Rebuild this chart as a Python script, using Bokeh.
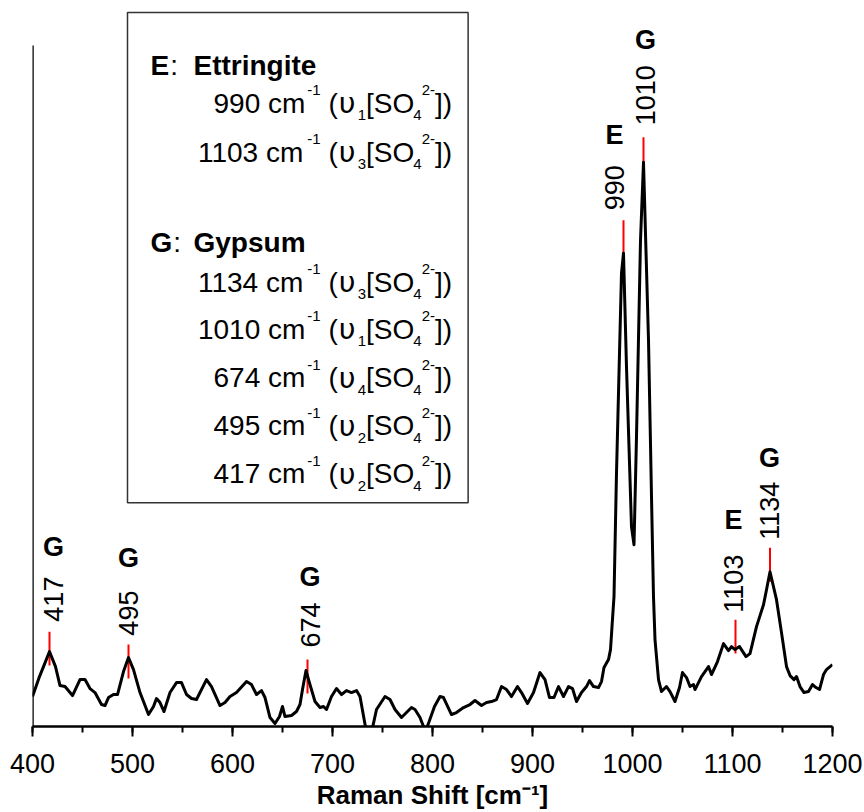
import numpy as np
from bokeh.plotting import figure
from bokeh.models import Range1d, SingleIntervalTicker, ColumnDataSource
from bokeh.core.properties import value
from bokeh.embed import file_html
from bokeh.resources import INLINE

# ---------------- data ----------------
shift = [400, 407, 417, 423, 427.5, 432.5, 440, 447.5, 452.5, 457.5, 462.5, 469, 472.5, 476,
         481, 485, 491, 496, 501, 507.5, 516, 521, 524, 527.5, 531.5, 537.5, 544, 549, 554,
         559, 564, 574, 579, 587.5, 592.5, 597.5, 604, 614, 619, 624, 629, 632.5, 637.5,
         642.5, 647, 650, 652.5, 659, 664, 667.5, 670, 673.5, 677.5, 682.5, 687.5, 691, 694,
         699, 704, 709, 714, 719, 724, 727.5, 734, 739, 744, 752.5, 757.5, 762.5, 769, 774,
         779, 782.5, 787.5, 793, 797, 802, 807.5, 811, 819, 824, 831, 837.5, 842.5, 849, 854,
         859, 864, 869, 874, 879, 885, 889, 895, 901, 907.5, 912.5, 917, 921.5, 926, 931, 936,
         940, 944, 949, 954, 957, 961, 966, 969, 971.5, 976, 978, 979.5, 981.5, 984, 989, 991,
         994, 999, 1001.5, 1004, 1008, 1011, 1016, 1019, 1021, 1022.5, 1026, 1029, 1034,
         1037.5, 1042.5, 1047, 1050, 1054, 1057.5, 1061, 1062.5, 1069, 1076, 1079, 1085, 1091,
         1096, 1099, 1102.5, 1107, 1113.5, 1117.5, 1124, 1131, 1134, 1137.5, 1144, 1149, 1154,
         1157.5, 1161.5, 1164, 1167.5, 1171.5, 1176, 1180, 1183.5, 1187, 1191, 1194, 1200]
intensity = [30, 50, 75, 60, 41, 40, 31, 47, 47, 38, 34, 22, 21, 29,
             32, 32, 55, 69, 57, 34, 12, 20, 28, 24, 15, 34, 44, 44, 32,
             28, 27, 47, 40, 21, 24, 30, 34, 45, 42, 32, 36, 29, 9,
             3, 10, 20, 10, 11, 15, 22, 37, 56, 42, 25, 19, 20, 17,
             30, 38, 32, 36, 34, 36, 30, -6, -6, 17, 30, 27, 17, 9, 14,
             19, 17, 9, -5, 6, 20, 30, 29, 12, 14, 19, 22, 26, 21, 24,
             25, 27, 40, 37, 30, 40, 34, 23, 34, 54, 47, 29, 29, 40, 30, 40,
             38, 25, 34, 40, 46, 40, 39, 45, 59, 67, 77, 100, 130, 254, 454, 474,
             360, 200, 182, 290, 487, 565, 387, 230, 130, 87, 47, 35, 40,
             35, 25, 39, 54, 49, 40, 42, 37, 50, 60, 52, 65, 83,
             76, 80, 77, 80, 70, 73, 100, 122, 137, 155, 127, 94, 60,
             51, 47, 50, 40, 34, 35, 42, 39, 37, 52, 57, 62]

peak_labels = ["417", "495", "674", "990", "1010", "1103", "1134"]
peak_phase = ["G", "G", "G", "E", "G", "E", "G"]
marker_x = [417, 496, 675, 991, 1011, 1103, 1137.5]
marker_top = [95, 82, 67, 507, 590, 107, 179]
label_x = [421, 496, 677.5, 982, 1013, 1101, 1137]
label_start = [105, 91, 79, 517, 602, 114, 187]
phase_baseline = [180, 169, 150, 592, 687, 207, 269]

ett_bands = ["990", "1103"]
ett_modes = ["1", "3"]
gyp_bands = ["1134", "1010", "674", "495", "417"]
gyp_modes = ["3", "1", "4", "2", "2"]

x_ticks_start, x_ticks_end, x_tick_step = 400, 1200, 100
x_title = "Raman Shift [cm\u207b\u00b9]"

# ---------------- figure ----------------
FONT = "Liberation Sans"
W, H = 864, 812
p = figure(width=W, height=H, output_backend="svg", toolbar_location=None,
           x_range=Range1d(x_ticks_start, x_ticks_end), y_range=Range1d(0, 719),
           y_axis_location=None, min_border_left=32, min_border_right=32,
           min_border_top=8, min_border_bottom=85)
p.outline_line_color = None
p.grid.visible = False
p.background_fill_color = "white"
p.border_fill_color = "white"

ax = p.xaxis[0]
ax.ticker = SingleIntervalTicker(interval=x_tick_step, num_minor_ticks=2)
ax.axis_line_width = 2.5
ax.axis_line_color = "black"
ax.major_tick_out = 10
ax.major_tick_in = 0
ax.minor_tick_out = 6
ax.minor_tick_in = 0
ax.major_tick_line_width = 2
ax.minor_tick_line_width = 2
ax.major_tick_line_color = "black"
ax.minor_tick_line_color = "black"
ax.major_label_text_font = FONT
ax.major_label_text_font_size = "27px"
ax.major_label_text_color = "black"
ax.major_label_text_line_height = 1.0
ax.major_label_standoff = 17
ax.axis_label = x_title
ax.axis_label_text_font = FONT
ax.axis_label_text_font_size = "26px"
ax.axis_label_text_font_style = "bold"
ax.axis_label_text_color = "black"
ax.axis_label_text_line_height = 1.0
ax.axis_label_standoff = 4

# left axis line (only up to the top of the data region)
p.segment(x0=[400], y0=[0], x1=[400], y1=[682], line_color="black", line_width=2.5)

# red peak markers
mtop = np.array(marker_top, dtype=float)
p.segment(x0=marker_x, y0=mtop - 34, x1=marker_x, y1=mtop, line_color="#ff0000", line_width=2)

# spectrum
p.line(shift, intensity, line_color="black", line_width=3, line_join="round")

# rotated peak labels
p.text(x=label_x, y=label_start, text=peak_labels, angle=np.pi / 2,
       text_align="left", text_baseline="middle", text_font=value(FONT),
       text_font_size="27px", text_color="black")
# phase letters
p.text(x=label_x, y=phase_baseline, text=peak_phase, text_align="center",
       text_baseline="alphabetic", text_font=value(FONT), text_font_size="27px",
       text_font_style="bold", text_color="black")

# ---------------- legend box ----------------
WID = {' ': .278, 'c': .5, 'm': .833, '(': .333, ')': .333, '[': .278, ']': .278,
       'S': .667, 'O': .778, '-': .333, ':': .278}
for d in "0123456789":
    WID[d] = .556


def tw(s, size):
    return sum(WID.get(ch, .556) for ch in s) * size


F, FS, FU = 28, 15, 29
SUP, SUB = 13, -12
UPS_ADV = 20


def pieces(num, mode):
    out = []
    o = 0.0
    t = f"{num} cm"; out.append((t, o, 0, 'm')); o += tw(t, F)
    t = "-1"; out.append((t, o + 2, SUP, 's')); o += tw(t, FS) + 2
    o += tw(" ", F)
    t = "("; out.append((t, o, 0, 'm')); o += tw(t, F)
    out.append(("υ", o + 1, 0, 'u')); o += UPS_ADV
    out.append((mode, o, SUB, 's')); o += tw(mode, FS)
    t = "[SO"; out.append((t, o, 0, 'm')); o += tw(t, F)
    out.append(("4", o - 1, SUB, 's')); o += tw("4", FS) - 1
    out.append(("2-", o, SUP, 's')); o += tw("2-", FS)
    t = "])"; out.append((t, o, 0, 'm')); o += tw(t, F)
    return out, o


ref_pieces, ref_w = pieces("990", "1")
right_x = 581 + ref_w

legend_left = 495
legend_top = 715
legend_bottom = 224
legend_right = right_x + 16
p.quad(left=[legend_left], right=[legend_right], top=[legend_top], bottom=[legend_bottom],
       fill_color="white", line_color="#333333", line_width=1.5)

head_x = 518
name_x = 561
rows = [(662, "E", "Ettringite", ett_bands, ett_modes, [624, 575]),
        (485, "G", "Gypsum", gyp_bands, gyp_modes, [445, 398, 349, 301, 253])]

main = dict(x=[], y=[], text=[])
small = dict(x=[], y=[], text=[])
ups = dict(x=[], y=[], text=[])
bold = dict(x=[], y=[], text=[])
colon = dict(x=[], y=[], text=[])
for base, letter, name, bands, modes, ys in rows:
    bold["x"] += [head_x, name_x]
    bold["y"] += [base, base]
    bold["text"] += [letter, name]
    colon["x"].append(head_x + (0.667 if letter == "E" else 0.778) * F + 1)
    colon["y"].append(base)
    colon["text"].append(":")
    for num, mode, yb in zip(bands, modes, ys):
        pcs, w = pieces(num, mode)
        x0 = right_x - w
        for t, dx, dy, kind in pcs:
            tgt = {'m': main, 's': small, 'u': ups}[kind]
            tgt["x"].append(x0 + dx)
            tgt["y"].append(yb + dy)
            tgt["text"].append(t)

common = dict(x="x", y="y", text="text", text_baseline="alphabetic", text_align="left",
              text_color="black")
p.text(source=ColumnDataSource(main), text_font=value(FONT), text_font_size=f"{F}px", **common)
p.text(source=ColumnDataSource(small), text_font=value(FONT), text_font_size=f"{FS}px", **common)
p.text(source=ColumnDataSource(ups), text_font=value("DejaVu Sans"), text_font_size=f"{FU}px", **common)
p.text(source=ColumnDataSource(bold), text_font=value(FONT), text_font_size=f"{F}px",
       text_font_style="bold", **common)
p.text(source=ColumnDataSource(colon), text_font=value(FONT), text_font_size=f"{F}px", **common)

open("out.html", "w").write(file_html(p, INLINE))
